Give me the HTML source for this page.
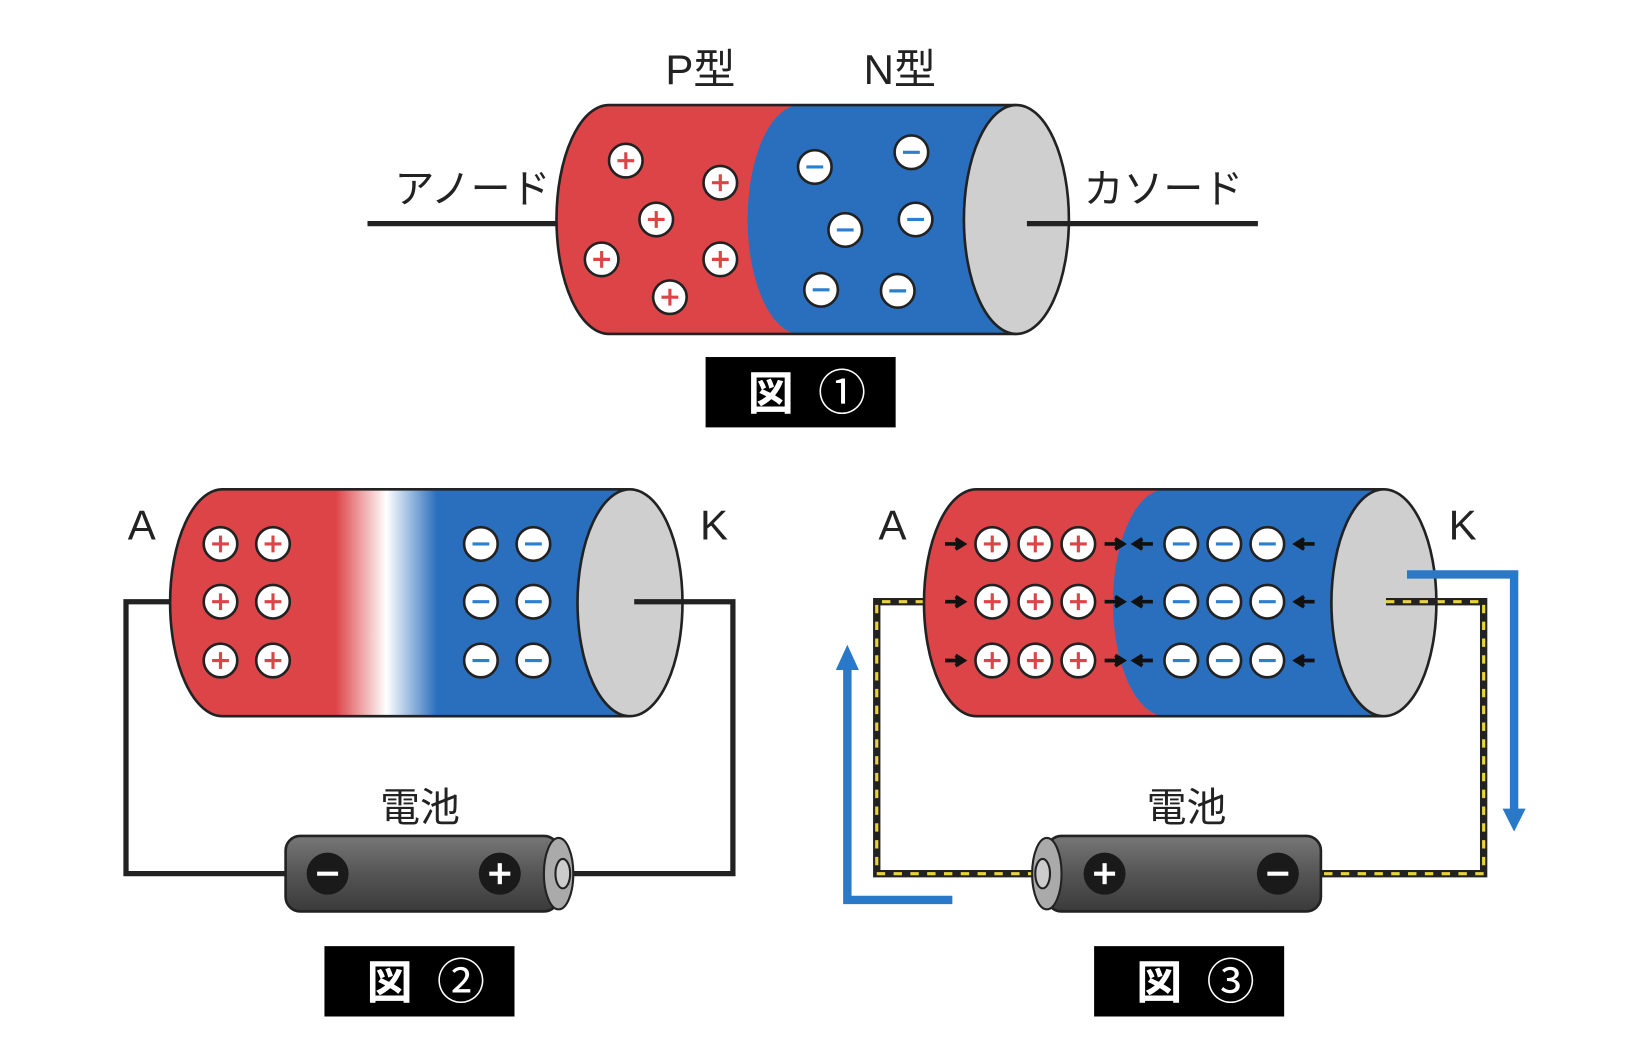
<!DOCTYPE html>
<html><head><meta charset="utf-8"><style>
html,body{margin:0;padding:0;background:#fff;width:1638px;height:1048px;overflow:hidden}
svg{display:block}
text{font-family:"Liberation Sans","Noto Sans CJK JP",sans-serif;fill:#222}
</style></head><body>
<svg id="s" width="1638" height="1048" viewBox="0 0 1560 998" preserveAspectRatio="none">
<defs>
<linearGradient id="g2" x1="0" x2="1" y1="0" y2="0">
<stop offset="0" stop-color="#dd4448"/><stop offset="0.36" stop-color="#dd4448"/>
<stop offset="0.47" stop-color="#fff"/><stop offset="0.58" stop-color="#2a6fbd"/>
<stop offset="1" stop-color="#2a6fbd"/></linearGradient>
<linearGradient id="bat" x1="0" x2="0" y1="0" y2="1">
<stop offset="0" stop-color="#777"/><stop offset="0.5" stop-color="#555"/><stop offset="1" stop-color="#3a3a3a"/></linearGradient>
</defs>
<g id="root"></g>
</svg>
<script>
const NS='http://www.w3.org/2000/svg';
const root=document.getElementById('root');
function el(tag,attrs,parent){const e=document.createElementNS(NS,tag);for(const k in attrs)e.setAttribute(k,attrs[k]);(parent||root).appendChild(e);return e;}
function txt(x,y,s,size,parent,anchor){const t=el('text',{x:x,y:y,'font-size':size,'text-anchor':anchor||'middle'},parent);t.textContent=s;return t;}

// generic cylinder: x0..x1, yc, ry, split x, colors
function cylinder(g,x0,x1,yc,ry,split,mode){
  const rx=50;
  const top=yc-ry,bot=yc+ry;
  if(mode==='grad'){
    el('path',{d:`M${x1},${top} L${x0+rx},${top} A${rx},${ry} 0 0 0 ${x0+rx},${bot} L${x1},${bot} Z`,fill:'url(#g2)'},g);
  } else {
    el('path',{d:`M${x1},${top} L${x0+rx},${top} A${rx},${ry} 0 0 0 ${x0+rx},${bot} L${x1},${bot} Z`,fill:'#2a6fbd'},g);
    el('path',{d:`M${split+rx},${top} L${x0+rx},${top} A${rx},${ry} 0 0 0 ${x0+rx},${bot} L${split+rx},${bot} A${rx},${ry} 0 0 1 ${split+rx},${top} Z`,fill:'#dd4448'},g);
  }
  el('path',{d:`M${x1},${top} L${x0+rx},${top} A${rx},${ry} 0 0 0 ${x0+rx},${bot} L${x1},${bot}`,fill:'none',stroke:'#222','stroke-width':2.5},g);
  el('ellipse',{cx:x1,cy:yc,rx:rx,ry:ry,fill:'#cfcfcf',stroke:'#222','stroke-width':2.5},g);
}
function charge(g,x,y,plus){
  el('circle',{cx:x,cy:y,r:16,fill:'#fff',stroke:'#222','stroke-width':2.5},g);
  const c=plus?'#dd4448':'#2a7fcf';
  el('line',{x1:x-8,y1:y,x2:x+8,y2:y,stroke:c,'stroke-width':3},g);
  if(plus)el('line',{x1:x,y1:y-8,x2:x,y2:y+8,stroke:c,'stroke-width':3},g);
}
function label(g,x,y,num){
  el('rect',{x:x,y:y,width:181,height:67,fill:'#000'},g);
  const t=txt(x+62,y+50,'図',44,g);t.setAttribute('fill','#fff');t.setAttribute('font-weight','bold');t.style.fill='#fff';
  const t2=txt(x+130,y+50,num,46,g);t2.style.fill='#fff';
}
function battery(g,x0,x1,yc,flip){
  el('rect',{x:x0,y:yc-36,width:x1-x0,height:72,rx:14,fill:'url(#bat)',stroke:'#222','stroke-width':2.5},g);
  const tx=flip?x0:x1;
  el('ellipse',{cx:tx,cy:yc,rx:14,ry:34,fill:'#aaa',stroke:'#222','stroke-width':2},g);
  el('ellipse',{cx:tx+(flip?-4:4),cy:yc,rx:7,ry:14,fill:'#ccc',stroke:'#222','stroke-width':2},g);
}
function pole(g,x,y,plus){
  el('circle',{cx:x,cy:y,r:20,fill:'#1a1a1a'},g);
  el('line',{x1:x-10,y1:y,x2:x+10,y2:y,stroke:'#fff','stroke-width':4},g);
  if(plus)el('line',{x1:x,y1:y-10,x2:x,y2:y+10,stroke:'#fff','stroke-width':4},g);
}

// ---- Figure 1 ----
const g1=el('g',{});


el('line',{x1:350,y1:213,x2:532,y2:213,stroke:'#222','stroke-width':5},g1);
cylinder(g1,530,968,209,109,712,'split');
el('line',{x1:978,y1:213,x2:1198,y2:213,stroke:'#222','stroke-width':5},g1);
const plus1=[[596,153],[686,174],[625,209],[573,247],[686,247],[638,283]];
const minus1=[[776,159],[868,145],[805,219],[872,209],[782,276],[855,277]];
plus1.forEach(p=>charge(g1,p[0],p[1],true));
minus1.forEach(p=>charge(g1,p[0],p[1],false));
txt(667,80,'P型',40,g1);txt(857,80,'N型',40,g1);
txt(450,193,'アノード',38,g1);txt(1108,193,'カソード',38,g1);
label(g1,672,340,'①');

// ---- Figure 2 ----
const g2=el('g',{});


el('polyline',{points:'162,573 120,573 120,832 275,832',fill:'none',stroke:'#222','stroke-width':5},g2);
el('polyline',{points:'604,573 698,573 698,832 540,832',fill:'none',stroke:'#222','stroke-width':5},g2);
cylinder(g2,162,600,574,108,0,'grad');
el('line',{x1:604,y1:573,x2:650,y2:573,stroke:'#222','stroke-width':5},g2);
[518,573,629].forEach(y=>{charge(g2,210,y,true);charge(g2,260,y,true);charge(g2,458,y,false);charge(g2,508,y,false);});
txt(135,514,'A',40,g2);txt(680,514,'K',40,g2);
battery(g2,272,532,832,false);
pole(g2,312,832,false);pole(g2,476,832,true);
txt(400,782,'電池',38,g2);
label(g2,309,901,'②');

// ---- Figure 3 ----
const g3=el('g',{});


const wl='880,573 835,573 835,832 990,832', wr='1320,573 1413,573 1413,832 1258,832';
[wl,wr].forEach(p=>{
  el('polyline',{points:p,fill:'none',stroke:'#222','stroke-width':7},g3);
  el('polyline',{points:p,fill:'none',stroke:'#e8d43a','stroke-width':3,'stroke-dasharray':'8 8'},g3);
});
cylinder(g3,880,1318,574,108,1060,'split');
el('line',{x1:1320,y1:573,x2:1368,y2:573,stroke:'#222','stroke-width':7},g3);
el('line',{x1:1320,y1:573,x2:1368,y2:573,stroke:'#e8d43a','stroke-width':3,'stroke-dasharray':'8 8'},g3);
[518,573,629].forEach(y=>{
  [945,986,1027].forEach(x=>charge(g3,x,y,true));
  [1125,1166,1207].forEach(x=>charge(g3,x,y,false));
  [[900,916],[1052,1068]].forEach(a=>el('path',{d:`M${a[0]},${y} L${a[1]},${y} M${a[1]-6},${y-5} L${a[1]+2},${y} L${a[1]-6},${y+5}`,stroke:'#111','stroke-width':3.5,fill:'#111'},g3));
  [[1098,1082],[1252,1236]].forEach(a=>el('path',{d:`M${a[0]},${y} L${a[1]},${y} M${a[1]+6},${y-5} L${a[1]-2},${y} L${a[1]+6},${y+5}`,stroke:'#111','stroke-width':3.5,fill:'#111'},g3));
});
txt(850,514,'A',40,g3);txt(1393,514,'K',40,g3);
battery(g3,997,1258,832,true);
pole(g3,1052,832,true);pole(g3,1217,832,false);
txt(1130,782,'電池',38,g3);
el('polyline',{points:'907,857 807,857 807,632',fill:'none',stroke:'#2a78c8','stroke-width':8},g3);
el('path',{d:'M796,638 L807,614 L818,638 Z',fill:'#2a78c8'},g3);
el('polyline',{points:'1340,547 1442,547 1442,775',fill:'none',stroke:'#2a78c8','stroke-width':8},g3);
el('path',{d:'M1431,770 L1442,792 L1453,770 Z',fill:'#2a78c8'},g3);
label(g3,1042,901,'③');
</script>
</body></html>
